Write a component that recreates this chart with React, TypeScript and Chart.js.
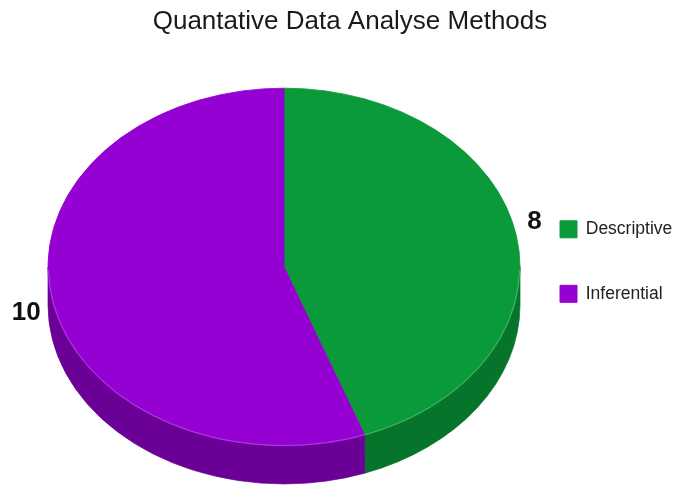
import React, { useEffect, useRef } from 'react';
import { Chart, registerables } from 'chart.js';

Chart.register(...registerables);

// ---- data ----
const TITLE = 'Quantative Data Analyse Methods';
const categories = ['Descriptive', 'Inferential'];
const counts = [8, 10];

// ---- style ----
const topColors = ['#0A9A3A', '#9500D3'];
const sideColors = ['#06742A', '#6B0096'];
const FONT = '"Liberation Sans", Arial, sans-serif';
const W = 675;
const H = 487;
const TILT = 0.758; // vertical squash of the pie top
const DEPTH = 38; // visible thickness in px
const SHIFT_X = 15;
const SHIFT_Y = 5.5;
const RADIUS = 236;
const LABEL_GAP = 11;

const pie3d = {
  id: 'pie3d',
  beforeDatasetsDraw(chart: any) {
    const meta = chart.getDatasetMeta(0);
    const arcs = meta.data;
    if (!arcs.length) return;
    const { ctx } = chart;
    const { x: cx, y: cy } = arcs[0].getProps(['x', 'y'], true);
    ctx.save();
    ctx.translate(cx + SHIFT_X, cy + SHIFT_Y);
    ctx.scale(1, TILT);
    ctx.translate(-cx, -cy);
    const D = DEPTH / TILT;
    arcs.forEach((arc: any, i: number) => {
      const p = arc.getProps(['startAngle', 'endAngle', 'outerRadius'], true);
      for (let n = -2; n <= 2; n++) {
        const lo = Math.max(p.startAngle, n * 2 * Math.PI);
        const hi = Math.min(p.endAngle, n * 2 * Math.PI + Math.PI);
        if (hi <= lo) continue;
        ctx.beginPath();
        ctx.arc(cx, cy, p.outerRadius, lo, hi);
        ctx.arc(cx, cy + D, p.outerRadius, hi, lo, true);
        ctx.closePath();
        ctx.fillStyle = sideColors[i % sideColors.length];
        ctx.strokeStyle = sideColors[i % sideColors.length];
        ctx.lineWidth = 0.8;
        ctx.fill();
        ctx.stroke();
      }
    });
  },
  afterDatasetsDraw(chart: any) {
    const meta = chart.getDatasetMeta(0);
    const arcs = meta.data;
    if (!arcs.length) return;
    const { ctx } = chart;
    const { x: cx, y: cy, outerRadius } = arcs[0].getProps(['x', 'y', 'outerRadius'], true);
    // faint highlight along the front rim
    ctx.beginPath();
    ctx.arc(cx, cy, outerRadius - 0.5, 0.02, Math.PI - 0.02);
    ctx.strokeStyle = 'rgba(255,255,255,0.28)';
    ctx.lineWidth = 1;
    ctx.stroke();
    ctx.restore();

    // value labels
    const values = chart.data.datasets[0].data;
    ctx.save();
    ctx.font = `bold 26px ${FONT}`;
    ctx.fillStyle = '#111111';
    arcs.forEach((arc: any, i: number) => {
      const p = arc.getProps(['x', 'y', 'startAngle', 'endAngle', 'outerRadius'], true);
      const a = (p.startAngle + p.endAngle) / 2;
      const rr = p.outerRadius + LABEL_GAP;
      const X = p.x + SHIFT_X + rr * Math.cos(a);
      const Y = p.y + SHIFT_Y + TILT * rr * Math.sin(a);
      ctx.textAlign = Math.cos(a) >= 0 ? 'left' : 'right';
      ctx.textBaseline = Math.sin(a) < 0 ? 'bottom' : 'top';
      ctx.fillText(String(values[i]), X, Y);
    });
    ctx.restore();
  },
};

export default function App() {
  const ref = useRef<HTMLCanvasElement | null>(null);
  useEffect(() => {
    if (!ref.current) return;
    const chart = new Chart(ref.current, {
      type: 'pie',
      data: {
        labels: categories,
        datasets: [
          {
            data: counts,
            backgroundColor: topColors,
            borderColor: topColors,
            borderWidth: 1,
            radius: RADIUS,
            clip: false,
          } as any,
        ],
      },
      options: {
        animation: false,
        responsive: true,
        maintainAspectRatio: false,
        layout: { padding: { left: 25, right: 0, top: 0, bottom: 0 } },
        plugins: {
          title: {
            display: true,
            text: TITLE,
            color: '#1a1a1a',
            font: { family: FONT, size: 26, weight: 'normal', lineHeight: 1.12 },
            padding: { top: 7, bottom: 0 },
          },
          legend: {
            position: 'right',
            fullSize: false,
            maxWidth: 162,
            labels: {
              color: '#222222',
              font: { family: FONT, size: 17.5 },
              boxWidth: 17,
              boxHeight: 17,
              padding: 47,
            },
          },
          tooltip: { enabled: false },
        },
      } as any,
      plugins: [pie3d],
    });
    return () => chart.destroy();
  }, []);
  return (
    <div style={{ position: 'fixed', left: 0, top: 0, width: W, height: H, background: '#ffffff' }}>
      <canvas ref={ref} />
    </div>
  );
}
